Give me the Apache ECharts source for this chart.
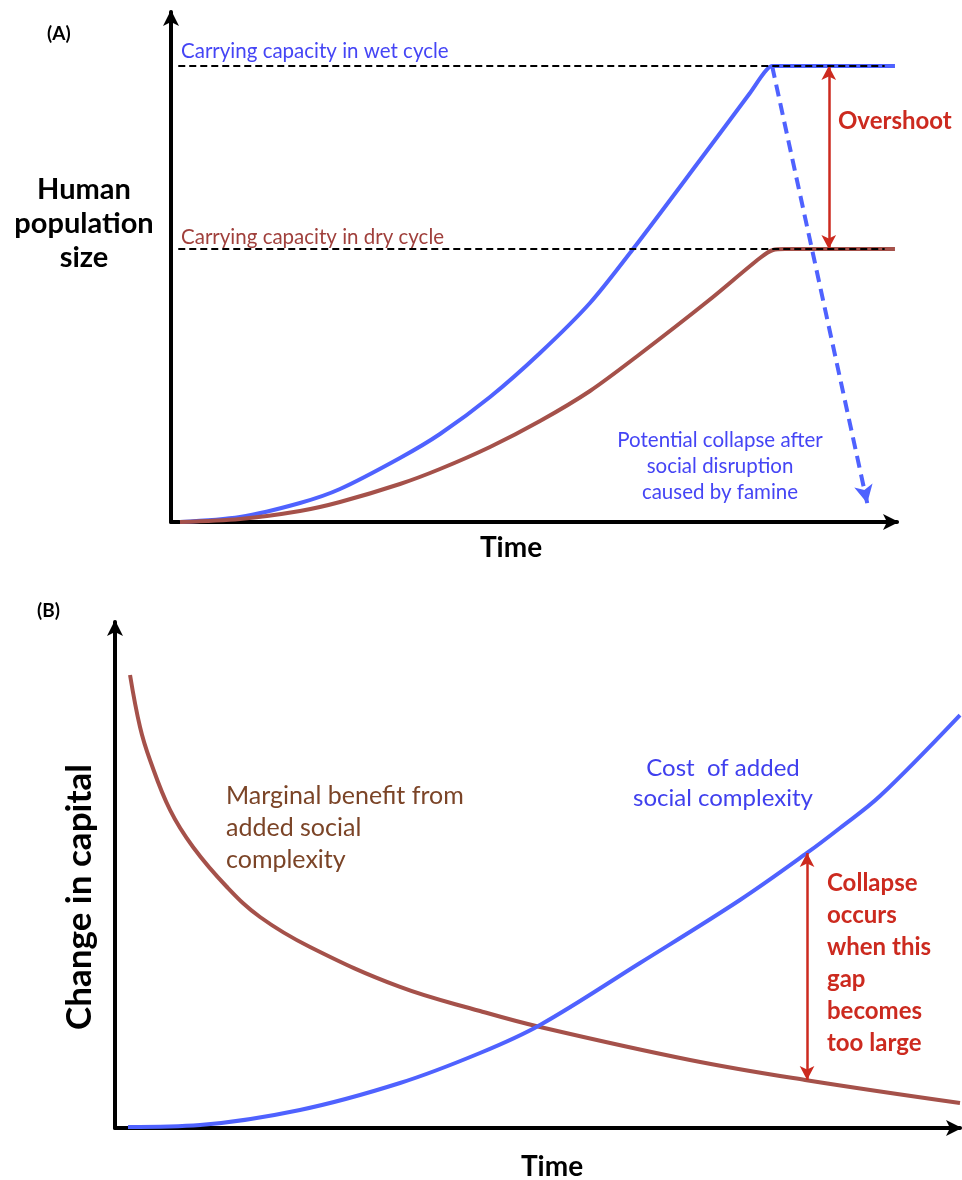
<!DOCTYPE html>
<html>
<head>
<meta charset="utf-8">
<script src="https://cdn.jsdelivr.net/npm/echarts@6/dist/echarts.min.js"></script>
<style>
  html, body { margin: 0; padding: 0; background: #fff; }
  #main { width: 962px; height: 1180px; }
</style>
</head>
<body>
<div id="main"></div>
<script>
// panel (A): time 0..100, population 0..100
var wetTime = [1.24, 9.5, 17.77, 23.28, 31.54, 37.05, 43.94, 50.83, 57.71, 63.64, 72.87, 79.75, 81.68, 82.78, 83.88, 99.72];
var wetPop  = [0, 0.98, 3.73, 6.47, 12.55, 17.25, 24.51, 33.14, 42.94, 53.53, 70.98, 84.12, 88.04, 89.41, 89.41, 89.41];
var dryTime = [1.24, 9.5, 17.77, 23.28, 31.54, 37.05, 43.94, 50.83, 57.71, 64.6, 73.97, 81.13, 82.92, 84.57, 99.72];
var dryPop  = [0, 0.59, 2.16, 3.92, 7.45, 10.39, 14.71, 19.8, 25.69, 32.94, 43.33, 51.76, 53.33, 53.53, 53.53];
var wetCapacity = 89.41;
var dryCapacity = 53.53;
var capStart = 1, capEnd = 98.3;
var collapseFrom = [82.8, 89.4];
var collapseTo = [95.9, 3.7];
var overshootTime = 90.6;

// panel (B): time 0..100, change in capital 0..100
var benefitTime = [1.78, 2.96, 4.14, 6.51, 9.23, 13.25, 17.16, 23.08, 33.73, 43.2, 50.3, 68.05, 81.66, 100];
var benefitVal  = [89.53, 79.25, 72.73, 62.85, 55.53, 47.63, 41.7, 35.77, 27.87, 23.12, 19.96, 13.44, 9.49, 4.94];
var costTime = [1.54, 10.06, 21.89, 33.73, 43.2, 50.3, 62.13, 73.96, 81.89, 85.8, 90.53, 100];
var costVal  = [0.2, 0.59, 3.56, 8.89, 14.82, 20.36, 32.61, 45.06, 54.35, 59.29, 65.61, 81.62];
var gapTime = 81.9;
var gapTop = 54.35, gapBottom = 9.49;

var BLUE = '#4f62ff';
var BROWN_LINE = '#a5514a';
var RED = '#cc2a1f';
var FONT = 'Lato, "Open Sans", sans-serif';

function pairs(xs, ys) {
    var out = [];
    for (var i = 0; i < xs.length; i++) out.push([xs[i], ys[i]]);
    return out;
}

var myChart = echarts.init(document.getElementById('main'));

function axisStyle(width) {
    return {
        show: true,
        symbol: ['none', 'arrow'],
        symbolSize: [12, 16],
        symbolOffset: [0, 2],
        lineStyle: { color: '#000', width: width }
    };
}

var hiddenBits = {
    axisTick: { show: false },
    axisLabel: { show: false },
    splitLine: { show: false }
};

function valAxis(extra) {
    return Object.assign({ type: 'value', min: 0, max: 100 }, hiddenBits, extra);
}

option = {
    backgroundColor: '#fff',
    animation: false,
    textStyle: { fontFamily: FONT },
    grid: [
        { left: 171, top: 12, width: 726, height: 510 },
        { left: 115, top: 622, width: 845, height: 506 }
    ],
    xAxis: [
        valAxis({ gridIndex: 0, axisLine: axisStyle(4) }),
        valAxis({ gridIndex: 1, axisLine: axisStyle(4) })
    ],
    yAxis: [
        valAxis({ gridIndex: 0, axisLine: axisStyle(4) }),
        valAxis({ gridIndex: 1, axisLine: axisStyle(4) })
    ],
    series: [
        // 湿润期曲线
        {
            type: 'line', xAxisIndex: 0, yAxisIndex: 0,
            data: pairs(wetTime, wetPop),
            smooth: 0.3,
            showSymbol: false,
            lineStyle: { color: BLUE, width: 4 },
            z: 3,
            markLine: {
                silent: true,
                symbol: ['none', 'arrow'],
                symbolSize: [14, 18],
                label: { show: false },
                lineStyle: { color: BLUE, width: 4, type: [12, 7] },
                data: [[{ coord: collapseFrom }, { coord: collapseTo }]]
            }
        },
        // 干旱期曲线
        {
            type: 'line', xAxisIndex: 0, yAxisIndex: 0,
            data: pairs(dryTime, dryPop),
            smooth: 0.3,
            showSymbol: false,
            lineStyle: { color: BROWN_LINE, width: 4 },
            z: 3
        },
        // 承载力虚线
        {
            type: 'line', xAxisIndex: 0, yAxisIndex: 0,
            data: [[capStart, wetCapacity], [capEnd, wetCapacity]],
            showSymbol: false,
            lineStyle: { color: '#000', width: 2, type: [7, 4] },
            z: 5
        },
        {
            type: 'line', xAxisIndex: 0, yAxisIndex: 0,
            data: [[capStart, dryCapacity], [capEnd, dryCapacity]],
            showSymbol: false,
            lineStyle: { color: '#000', width: 2, type: [7, 4] },
            z: 5,
            markLine: {
                silent: true,
                symbol: ['arrow', 'arrow'],
                symbolSize: [11, 14],
                label: { show: false },
                lineStyle: { color: RED, width: 2.5, type: 'solid' },
                data: [[{ coord: [overshootTime, wetCapacity] }, { coord: [overshootTime, dryCapacity] }]]
            }
        },
        // (B) 边际收益
        {
            type: 'line', xAxisIndex: 1, yAxisIndex: 1,
            data: pairs(benefitTime, benefitVal),
            smooth: 0.4,
            showSymbol: false,
            lineStyle: { color: BROWN_LINE, width: 4 },
            z: 3
        },
        // (B) 成本
        {
            type: 'line', xAxisIndex: 1, yAxisIndex: 1,
            data: pairs(costTime, costVal),
            smooth: 0.35,
            showSymbol: false,
            lineStyle: { color: BLUE, width: 4 },
            z: 4,
            markLine: {
                silent: true,
                symbol: ['arrow', 'arrow'],
                symbolSize: [11, 14],
                label: { show: false },
                lineStyle: { color: RED, width: 2.5, type: 'solid' },
                data: [[{ coord: [gapTime, gapTop] }, { coord: [gapTime, gapBottom] }]]
            }
        }
    ],
    graphic: [
        { type: 'text', left: 47, top: 24, style: { text: '(A)', font: 'bold 19px ' + FONT, fill: '#000' } },
        { type: 'text', x: 84, y: 224, style: { text: 'Human\npopulation\nsize', font: 'bold 29px ' + FONT, fill: '#000', align: 'center', verticalAlign: 'middle', lineHeight: 34 } },
        { type: 'text', x: 181, y: 51, style: { text: 'Carrying capacity in wet cycle', font: '20.5px ' + FONT, fill: '#4545f5', verticalAlign: 'middle' } },
        { type: 'text', x: 181, y: 237, style: { text: 'Carrying capacity in dry cycle', font: '20.5px ' + FONT, fill: '#a0403c', verticalAlign: 'middle' } },
        { type: 'text', x: 838, y: 121, style: { text: 'Overshoot', font: 'bold 24px ' + FONT, fill: RED, verticalAlign: 'middle' } },
        { type: 'text', x: 720, y: 466, style: { text: 'Potential collapse after\nsocial disruption\ncaused by famine', font: '20.5px ' + FONT, fill: '#4545f5', align: 'center', verticalAlign: 'middle', lineHeight: 26 } },
        { type: 'text', x: 511, y: 548, style: { text: 'Time', font: 'bold 28px ' + FONT, fill: '#000', align: 'center', verticalAlign: 'middle' } },

        { type: 'text', left: 37, top: 601, style: { text: '(B)', font: 'bold 19px ' + FONT, fill: '#000' } },
        { type: 'text', x: 80, y: 897, rotation: Math.PI / 2, style: { text: 'Change in capital', font: 'bold 35px ' + FONT, fill: '#000', align: 'center', verticalAlign: 'middle' } },
        { type: 'text', x: 226, y: 828, style: { text: 'Marginal benefit from\nadded social\ncomplexity', font: '25px ' + FONT, fill: '#7b4427', verticalAlign: 'middle', lineHeight: 32 } },
        { type: 'text', x: 723, y: 783, style: { text: 'Cost  of added\nsocial complexity', font: '24px ' + FONT, fill: '#4040ee', align: 'center', verticalAlign: 'middle', lineHeight: 30 } },
        { type: 'text', x: 827, y: 963, style: { text: 'Collapse\noccurs\nwhen this\ngap\nbecomes\ntoo large', font: 'bold 24px ' + FONT, fill: RED, verticalAlign: 'middle', lineHeight: 32 } },
        { type: 'text', x: 552, y: 1167, style: { text: 'Time', font: 'bold 28px ' + FONT, fill: '#000', align: 'center', verticalAlign: 'middle' } }
    ]
};

myChart.setOption(option);
</script>
</body>
</html>
